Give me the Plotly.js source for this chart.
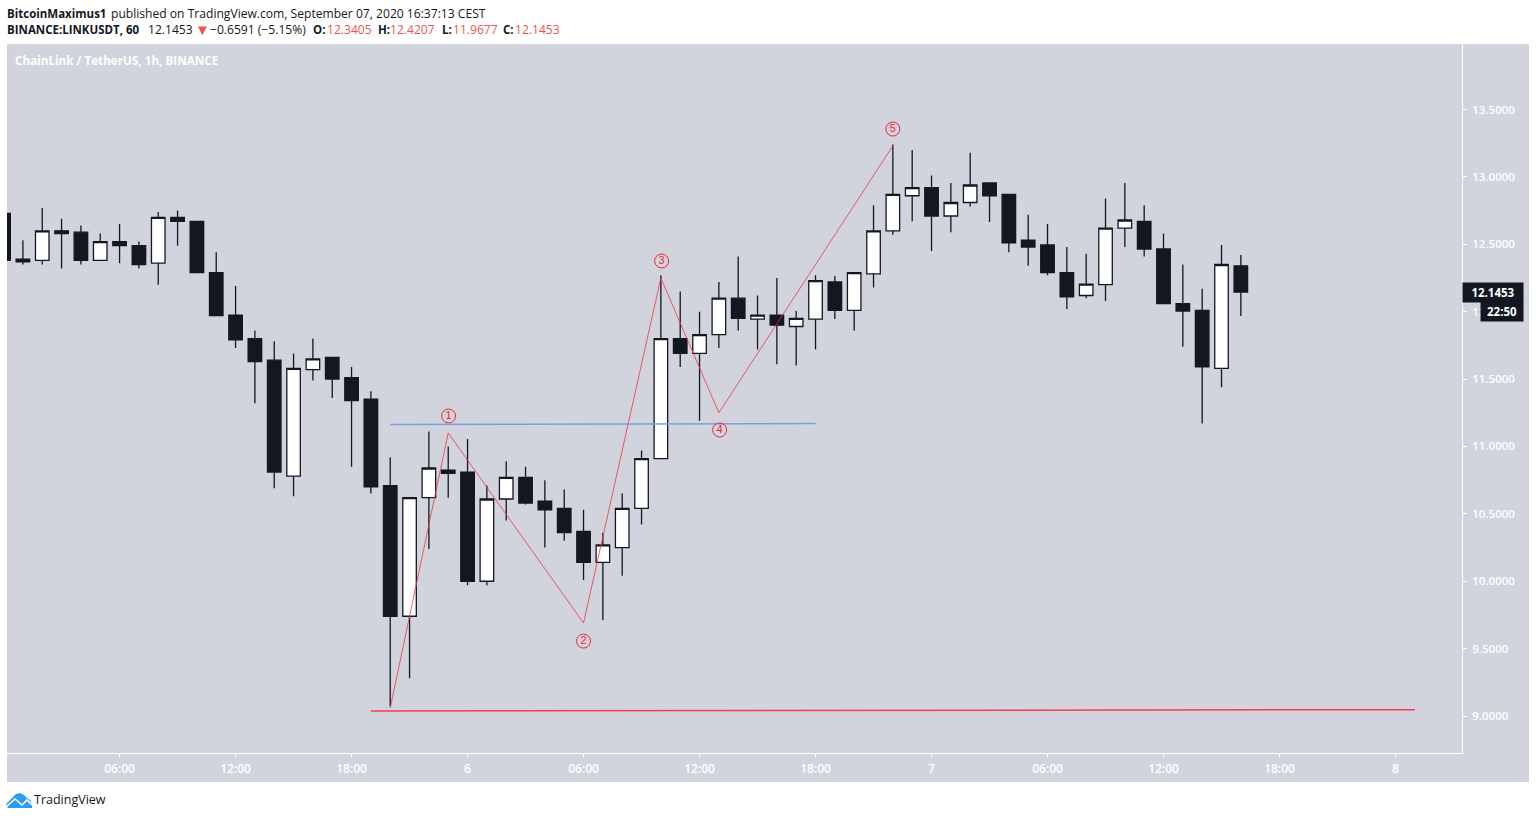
<!DOCTYPE html>
<html><head><meta charset="utf-8">
<script src="https://cdn.plot.ly/plotly-3.0.1.min.js"></script>
<style>html,body{margin:0;padding:0;background:#fff;overflow:hidden}#c{width:1536px;height:819px}</style>
</head><body><div id="c"></div>
<script>
// hours since Sep 5 00:00
const hours=[0,1,2,3,4,5,6,7,8,9,10,11,12,13,14,15,16,17,18,19,20,21,22,23,24,25,26,27,28,29,30,31,32,33,34,35,36,37,38,39,40,41,42,43,44,45,46,47,48,49,50,51,52,53,54,55,56,57,58,59,60,61,62,63,64];
const opens=[12.73,12.39,12.38,12.60,12.59,12.38,12.52,12.49,12.36,12.70,12.67,12.29,11.975,11.80,11.64,10.78,11.57,11.66,11.51,11.35,10.71,9.74,10.62,10.825,10.81,10.00,10.61,10.77,10.595,10.54,10.37,10.14,10.25,10.54,10.91,11.80,11.69,11.83,12.10,11.945,11.975,11.89,11.945,12.22,12.01,12.28,12.60,12.86,12.92,12.71,12.81,12.955,12.87,12.53,12.495,12.29,12.12,12.20,12.62,12.67,12.465,12.06,12.01,11.58,12.3405];
const highs=[12.73,12.53,12.77,12.69,12.64,12.58,12.65,12.52,12.74,12.75,12.67,12.44,12.19,11.86,11.78,11.69,11.80,11.66,11.59,11.41,10.92,10.62,11.11,11.00,11.055,10.71,10.89,10.85,10.75,10.68,10.53,10.36,10.65,10.97,12.27,12.15,12.00,12.22,12.41,12.12,12.25,12.005,12.27,12.265,12.29,12.79,13.24,13.20,13.01,12.955,13.18,12.955,12.875,12.72,12.65,12.48,12.43,12.84,12.955,12.79,12.58,12.35,12.17,12.495,12.4207];
const lows=[12.38,12.35,12.35,12.32,12.35,12.38,12.36,12.32,12.20,12.49,12.285,11.97,11.73,11.32,10.69,10.63,11.49,11.36,10.85,10.65,9.07,9.28,10.24,10.62,9.97,9.97,10.45,10.57,10.25,10.30,10.01,9.71,10.04,10.42,10.91,11.59,11.19,11.73,11.86,11.72,11.61,11.60,11.72,11.945,11.86,12.18,12.57,12.67,12.45,12.59,12.78,12.665,12.44,12.34,12.27,12.02,12.10,12.08,12.48,12.41,12.06,11.74,11.17,11.44,11.9677];
const closes=[12.38,12.37,12.60,12.58,12.38,12.52,12.49,12.35,12.70,12.67,12.29,11.97,11.79,11.63,10.81,11.58,11.65,11.50,11.34,10.70,9.74,10.62,10.84,10.80,10.00,10.61,10.77,10.58,10.53,10.36,10.14,10.27,10.54,10.91,11.80,11.69,11.83,12.10,11.95,11.975,11.90,11.95,12.23,12.01,12.29,12.60,12.87,12.92,12.71,12.81,12.94,12.86,12.51,12.48,12.29,12.11,12.205,12.62,12.68,12.465,12.06,12.005,11.59,12.35,12.1453];

const waveHours=[20,23,30,34,37,46];
const wavePrices=[9.06,11.10,9.69,12.25,11.25,13.23];
const waveLabelText=["1","2","3","4","5"];
const waveLabelHours=[23.02,30,34.04,37.04,46];
const waveLabelPrices=[11.226,9.556,12.376,11.122,13.355];
const blueHours=[20,42];
const bluePrices=[11.163,11.17];
const redHours=[19,73];
const redPrices=[9.037,9.047];

const xTickVals=[6,12,18,24,30,36,42,48,54,60,66,72];
const xTickText=["06:00","12:00","18:00","6","06:00","12:00","18:00","7","06:00","12:00","18:00","8"];
const yTickVals=[9,9.5,10,10.5,11,11.5,12,12.5,13,13.5];
const lastPrice=12.1453;

const DARK="#131722", BG="#d1d4dc", RED="#ef5350", FONT="Open Sans, sans-serif";
const px=x=>(x-7)/1455, py=y=>(753-y)/709;
const rect=(x0,y0,x1,y1,c)=>({type:"rect",xref:"paper",yref:"paper",x0:px(x0),x1:px(x1),y0:py(y0),y1:py(y1),fillcolor:c,line:{width:0},layer:"below"});
const label=(x,y,text,size,color)=>({xref:"paper",yref:"paper",x:px(x),y:py(y),text:text,showarrow:false,xanchor:"left",yanchor:"middle",borderpad:0,borderwidth:0,font:{family:FONT,size:size,color:color}});
const pathOf=pts=>"M"+pts.map(p=>px(p[0])+","+py(p[1])).join("L")+"Z";
const lineOf=pts=>"M"+pts.map(p=>px(p[0])+","+py(p[1])).join("L");

const traces=[
 {type:"candlestick",x:hours,open:opens,high:highs,low:lows,close:closes,whiskerwidth:0,
  increasing:{line:{color:DARK,width:1.3},fillcolor:"#ffffff"},
  decreasing:{line:{color:DARK,width:1.3},fillcolor:DARK},hoverinfo:"skip"},
 {type:"scatter",mode:"lines",x:waveHours,y:wavePrices,line:{color:"rgba(242,54,69,0.8)",width:1},hoverinfo:"skip"},
 {type:"scatter",mode:"lines",x:blueHours,y:bluePrices,line:{color:"#7a9fe0",width:1.5},hoverinfo:"skip"},
 {type:"scatter",mode:"lines",x:redHours,y:redPrices,line:{color:"#f0404a",width:1.5},hoverinfo:"skip"},
 {type:"scatter",mode:"markers+text",x:waveLabelHours,y:waveLabelPrices,text:waveLabelText,textposition:"middle center",
  textfont:{family:"Liberation Sans",size:11,color:"#f7252f"},
  marker:{symbol:"circle-open",size:14,color:"#f7252f",line:{width:1,color:"#f7252f"}},hoverinfo:"skip"}
];
const layout={
 width:1536,height:819,margin:{l:7,r:74,t:44,b:66,pad:0},
 paper_bgcolor:"#fff",plot_bgcolor:BG,showlegend:false,hovermode:false,boxmode:"overlay",boxgap:0.3,boxgroupgap:0,
 xaxis:{type:"linear",range:[0.177,75.44],tickmode:"array",tickvals:xTickVals,ticktext:xTickText,showgrid:false,zeroline:false,
  showline:true,linecolor:"#fff",linewidth:1,ticks:"outside",ticklen:3,tickcolor:"#fff",tickwidth:1,
  tickfont:{family:FONT,size:12,color:"#fff",weight:600},ticklabelstandoff:2,rangeslider:{visible:false},fixedrange:true},
 yaxis:{side:"right",range:[8.7255,13.986],tickmode:"array",tickvals:yTickVals,tickformat:".4f",showgrid:false,zeroline:false,
  showline:true,linecolor:"#fff",linewidth:1,ticks:"outside",ticklen:4,tickcolor:"#fff",tickwidth:1,
  tickfont:{family:FONT,size:11.5,color:"#fff",weight:600},ticklabelstandoff:3,fixedrange:true},
 shapes:[
  rect(1462,44,1529,782,BG),
  rect(7,753,1529,782,BG),
  {type:"path",xref:"paper",yref:"paper",path:pathOf([[6,806],[7,803],[13,797],[16,794],[20,793],[24,795],[27,798],[30,800],[32,804],[32,808],[8,808]]),fillcolor:"#2a9df4",line:{width:0}},
  {type:"path",xref:"paper",yref:"paper",path:lineOf([[6,807],[15,799],[22,805],[27,800],[32,805]]),fillcolor:"rgba(0,0,0,0)",line:{color:"#fff",width:1.6}}
 ],
 annotations:[
  label(7,13,'<b>BitcoinMaximus1</b>',11.5,DARK),
  label(110.5,13,'published on TradingView.com, September 07, 2020 16:37:13 CEST',12.1,DARK),
  label(7,29,'<b>BINANCE:LINKUSDT, 60</b>',11.5,DARK),
  label(148,29,'12.1453',12.1,DARK),
  label(195,29,'▼',15,RED),
  label(210,29,'−0.6591 (−5.15%)',12.1,DARK),
  label(313,29,'<b>O:</b>',11.5,DARK),label(327,29,'12.3405',12.1,RED),
  label(378,29,'<b>H:</b>',11.5,DARK),label(390,29,'12.4207',12.1,RED),
  label(442,29,'<b>L:</b>',11.5,DARK),label(453,29,'11.9677',12.1,RED),
  label(503,29,'<b>C:</b>',11.5,DARK),label(515,29,'12.1453',12.1,RED),
  label(15,60,'<b>ChainLink / TetherUS, 1h, BINANCE</b>',11.7,"#fff"),
  label(34,800,'TradingView',12.5,DARK),
  {xref:"paper",yref:"y",x:px(1493),y:lastPrice,xanchor:"center",yanchor:"middle",showarrow:false,text:"<b>12.1453</b>",width:60,height:19,bgcolor:DARK,borderpad:0,font:{family:FONT,size:11.5,color:"#fff"}},
  {xref:"paper",yref:"paper",x:px(1502),y:py(311.5),xanchor:"center",yanchor:"middle",showarrow:false,text:"<b>22:50</b>",width:42,height:19,bgcolor:DARK,borderpad:0,font:{family:FONT,size:11.5,color:"#fff"}}
 ]
};
Plotly.newPlot("c",traces,layout,{displayModeBar:false,staticPlot:true});
</script></body></html>
